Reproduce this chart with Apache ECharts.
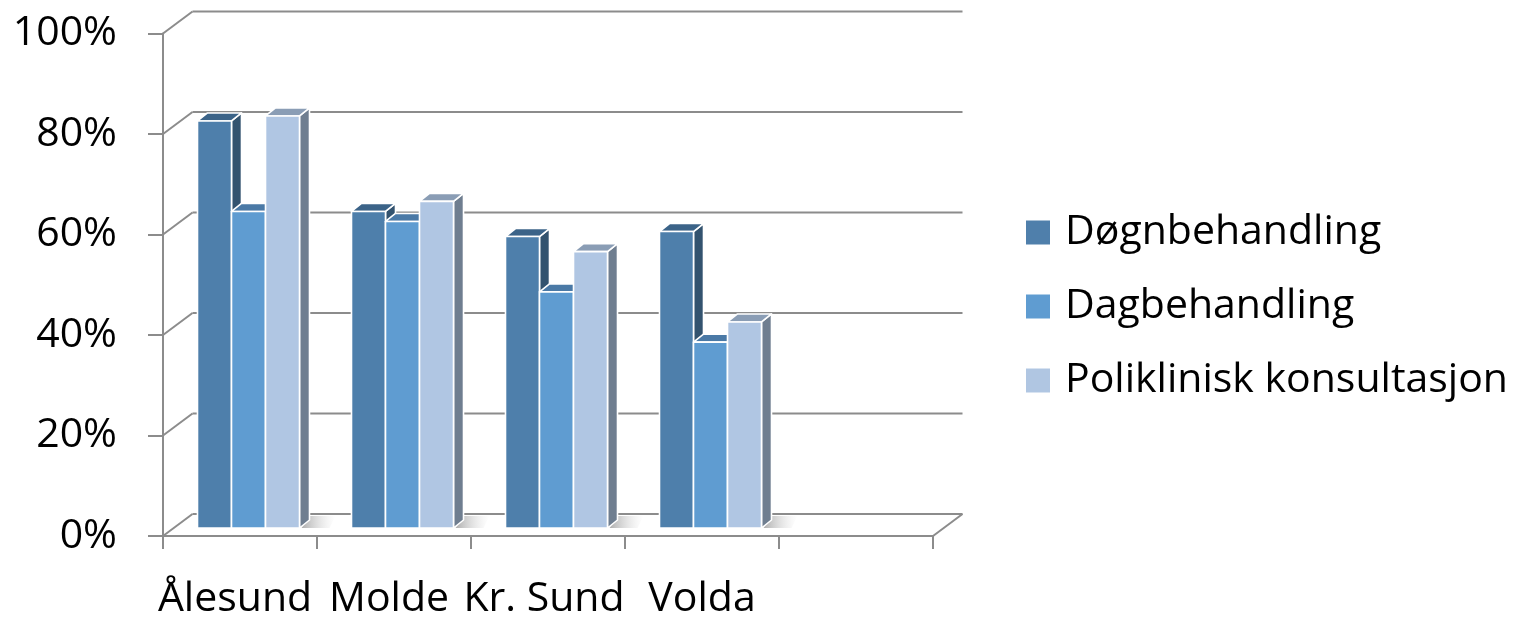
<!DOCTYPE html>
<html><head><meta charset="utf-8">
<script src="https://cdn.jsdelivr.net/npm/echarts@6/dist/echarts.min.js"></script>
<style>html,body{margin:0;padding:0;background:#fff}#c{width:1516px;height:620px}</style>
</head><body><div id="c"></div>
<script>
// ---- data ----
const categories = ['Ålesund', 'Molde', 'Kr. Sund', 'Volda', ''];
const seriesNames = ['Døgnbehandling', 'Dagbehandling', 'Poliklinisk konsultasjon'];
const dogn = [81, 63, 58, 59];
const dag = [63, 61, 47, 37];
const poli = [82, 65, 55, 41];
const yTicks = [0, 20, 40, 60, 80, 100];

// ---- styles ----
const FONT = 'Open Sans';
const FS = 41;
const GRAY = '#8c8c8c';
const WALL = [29.5, -22];      // depth offset of back wall
const BAR_D = [10, -8];        // depth of each bar
const BAR_SHIFT = [8.5, -8];   // bar front plane offset from front axis
const faces = [
  { front: '#4E7FAB', top: '#3B6388', side: '#33536F', legend: '#4F7FAB' },
  { front: '#5F9CD1', top: '#4A79A6', side: '#41668C', legend: '#5F9CD1' },
  { front: '#B0C6E3', top: '#8A9DB5', side: '#6F7E90', legend: '#B0C6E2' }
];
const labelShift = [-5, -5, -4, 0, 0];
const allSeries = [dogn, dag, poli];

function barRender(sIdx) {
  return function (params, api) {
    const ci = api.value(0), v = api.value(1);
    const base = api.coord([ci, 0]);
    const top = api.coord([ci, v]);
    const band = api.size([1, 0])[0];
    const pitch = band * 0.2208;
    const gc = base[0] + BAR_SHIFT[0];
    const x0 = gc + (sIdx - 1) * pitch - pitch / 2;
    const x1 = x0 + pitch;
    const yb = base[1] + BAR_SHIFT[1];
    const yt = top[1] + BAR_SHIFT[1];
    const f = faces[sIdx];
    const st = { stroke: '#ffffff', lineWidth: 1.6, lineJoin: 'round' };
    const children = [
      { type: 'polygon', shape: { points: [[x1, yt], [x1 + BAR_D[0], yt + BAR_D[1]], [x1 + BAR_D[0], yb + BAR_D[1]], [x1, yb]] },
        style: Object.assign({ fill: f.side }, st) },
      { type: 'polygon', shape: { points: [[x0, yt], [x1, yt], [x1 + BAR_D[0], yt + BAR_D[1]], [x0 + BAR_D[0], yt + BAR_D[1]]] },
        style: Object.assign({ fill: f.top }, st) },
      { type: 'rect', shape: { x: x0, y: yt, width: pitch, height: yb - yt },
        style: Object.assign({ fill: f.front }, st) }
    ];
    if (sIdx === 2) {
      children.unshift({ type: 'polygon', shape: { points: [[x1 + 2, yb], [x1 + 30, yb], [x1 + 36, yb + BAR_D[1] - 4], [x1 + 10, yb + BAR_D[1] - 4]] },
        style: { fill: new echarts.graphic.LinearGradient(0, 0, 1, 0, [{ offset: 0, color: 'rgba(120,120,120,0.6)' }, { offset: 1, color: 'rgba(200,200,200,0)' }]) } });
    }
    return { type: 'group', children };
  };
}

function wallRender(params, api) {
  const v = api.value(1);
  const cs = params.coordSys;
  const y = api.coord([0, v])[1];
  const xl = cs.x, xr = cs.x + cs.width;
  const ls = { stroke: GRAY, lineWidth: 2 };
  const children = [
    { type: 'line', shape: { x1: xl, y1: y, x2: xl + WALL[0], y2: y + WALL[1] }, style: ls },
    { type: 'line', shape: { x1: xl + WALL[0], y1: y + WALL[1], x2: xr + WALL[0], y2: y + WALL[1] }, style: ls }
  ];
  if (v === yTicks[0]) {
    children.push({ type: 'line', shape: { x1: xr, y1: y, x2: xr + WALL[0], y2: y + WALL[1] }, style: ls });
  }
  return { type: 'group', children };
}

const chart = echarts.init(document.getElementById('c'), null, { renderer: 'canvas' });

const series = [{
  type: 'custom', name: 'wall', z: 1, silent: true,
  renderItem: wallRender,
  data: yTicks.map(v => [0, v])
}];
allSeries.forEach((arr, s) => {
  series.push({
    type: 'custom', name: seriesNames[s], z: 3 + s,
    itemStyle: { color: faces[s].legend },
    renderItem: barRender(s),
    data: arr.map((v, i) => [i, v])
  });
});

chart.setOption({
  animation: false,
  backgroundColor: '#ffffff',
  textStyle: { fontFamily: FONT },
  grid: { left: 163, right: 583, top: 33.5, bottom: 78, containLabel: false },
  xAxis: {
    type: 'category',
    data: categories.map((c, i) => ({ value: c, textStyle: { padding: [0, Math.max(0, -2 * labelShift[i]), 0, Math.max(0, 2 * labelShift[i])] } })),
    boundaryGap: true,
    axisLine: { show: true, lineStyle: { color: GRAY, width: 2 } },
    axisTick: { show: true, length: 13, lineStyle: { color: GRAY, width: 2 } },
    axisLabel: { interval: 0, fontSize: FS, color: '#000', fontFamily: FONT, margin: 43 },
    splitLine: { show: false }
  },
  yAxis: {
    type: 'value', min: 0, max: 100, interval: 20,
    axisLine: { show: true, lineStyle: { color: GRAY, width: 2 } },
    axisTick: { show: true, length: 15, lineStyle: { color: GRAY, width: 2 } },
    axisLabel: { fontSize: FS, color: '#000', fontFamily: FONT, margin: 46, formatter: '{value}%' },
    splitLine: { show: false }
  },
  legend: {
    orient: 'vertical', left: 1026, top: 212, padding: 0,
    itemWidth: 24, itemHeight: 24, itemGap: 33,
    textStyle: { fontSize: FS, color: '#000', fontFamily: FONT, padding: [0, 0, 0, 10] },
    data: seriesNames.map((n, s) => ({ name: n, icon: 'rect', itemStyle: { color: faces[s].legend } }))
  },
  series
});
</script>
</body></html>
